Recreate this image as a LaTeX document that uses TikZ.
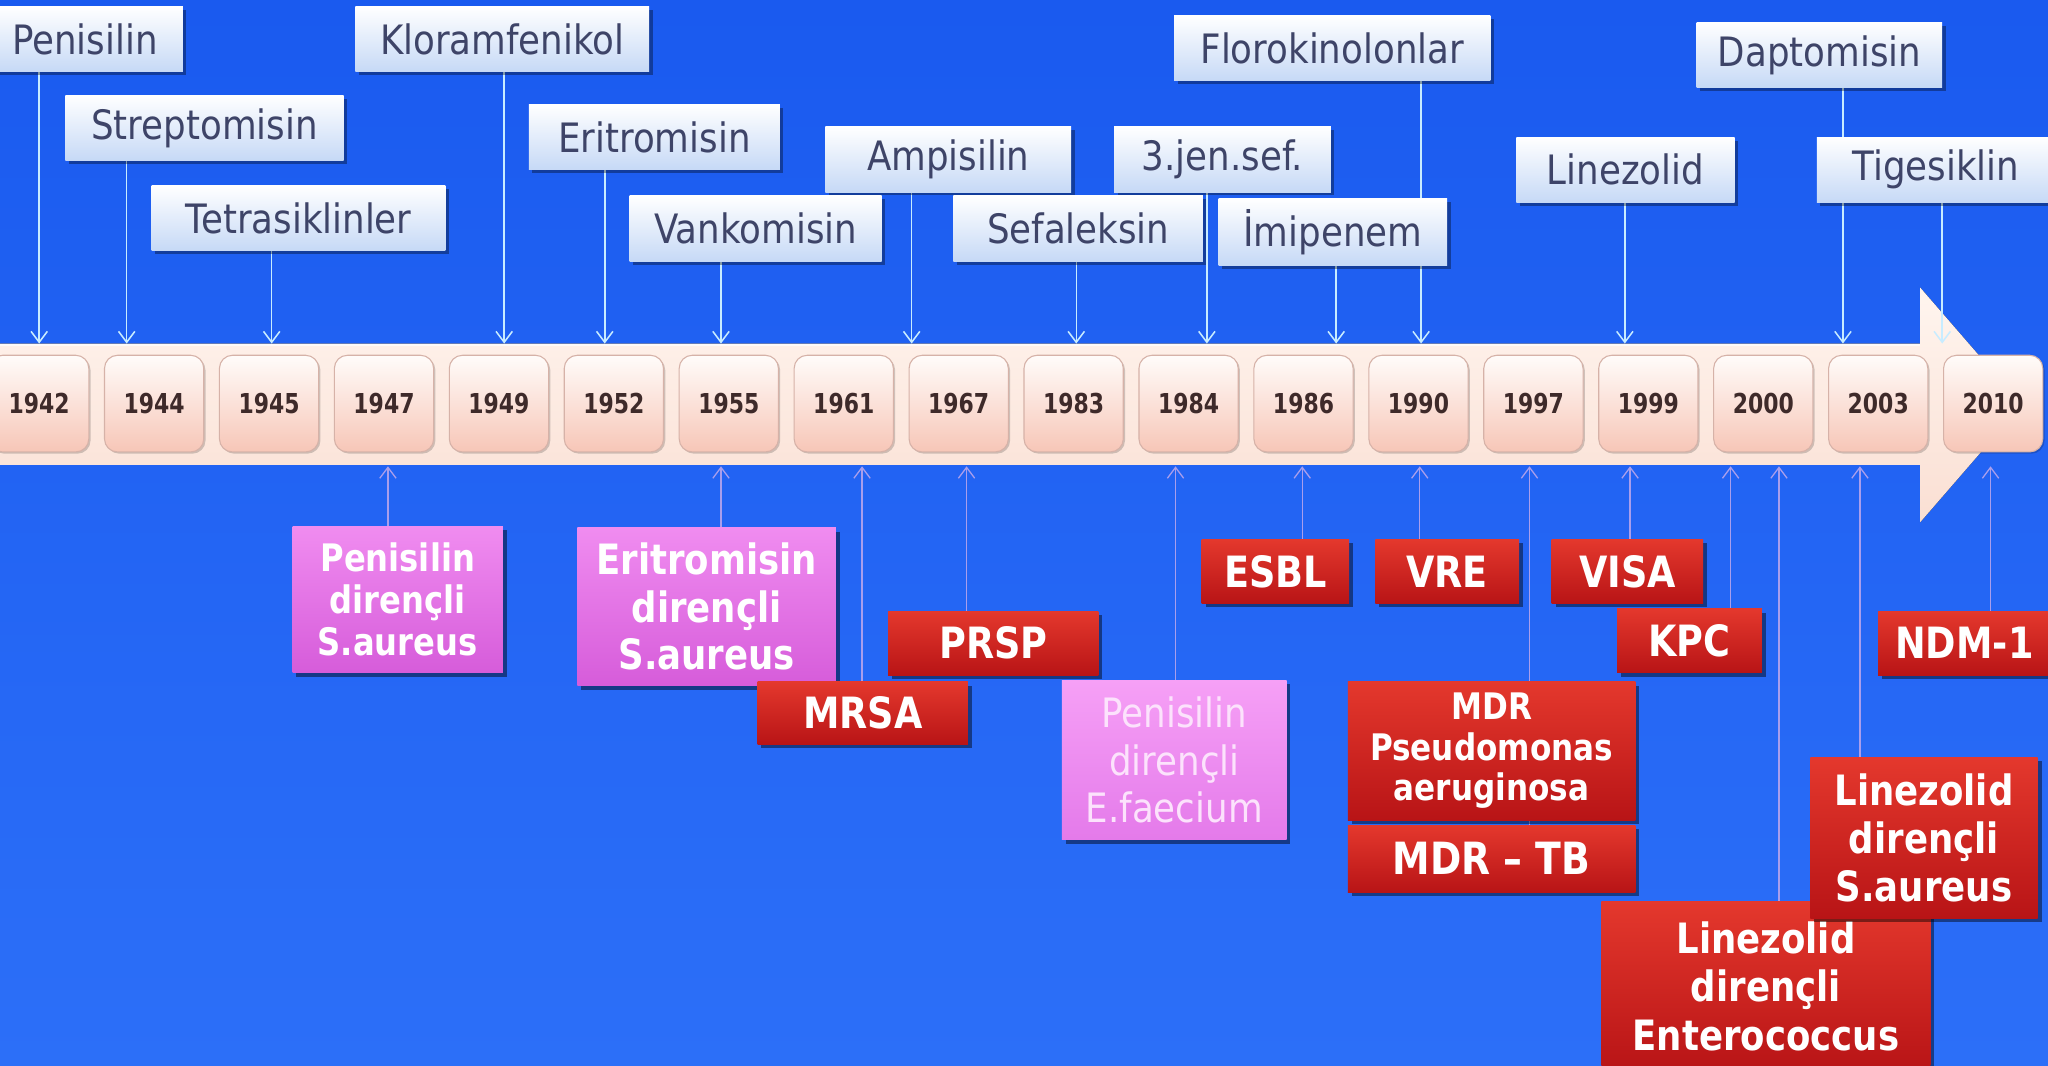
\documentclass[tikz,border=0pt]{standalone}
\usepackage{fontspec}
\setmainfont{DejaVu Sans}
\newfontfamily\lblfont{DejaVu Sans}[FakeStretch=0.88]
\newfontfamily\boxfont{DejaVu Sans}[FakeStretch=0.85]
\newfontfamily\yearfont{DejaVu Sans}[FakeStretch=0.8]
\usetikzlibrary{arrows.meta,shadows}

\definecolor{bgtop}{HTML}{1A5AEF}
\definecolor{bgbot}{HTML}{2C6FF8}
\definecolor{bandtopc}{HTML}{FFF5EF}
\definecolor{bandbotc}{HTML}{FADFD3}
\definecolor{lblbot}{HTML}{C6D9F6}
\definecolor{lbltext}{HTML}{3E4468}
\definecolor{yrtop}{HTML}{FFFCFA}
\definecolor{yrbot}{HTML}{F7C6B7}
\definecolor{yrline}{HTML}{D6B2A8}
\definecolor{yrtext}{HTML}{3E2A2A}
\definecolor{redtop}{HTML}{E4382D}
\definecolor{redbot}{HTML}{B81416}
\definecolor{pinktop}{HTML}{F08CF0}
\definecolor{pinkbot}{HTML}{D65CDA}
\definecolor{palepinktop}{HTML}{F6A0F6}
\definecolor{palepinkbot}{HTML}{E47AEA}
\definecolor{palepinktext}{HTML}{FCE2FC}
\definecolor{arrtop}{HTML}{C8ECFF}
\definecolor{arrbot}{HTML}{A99EEC}

\pgfdeclarelayer{bg}
\pgfdeclarelayer{lines}
\pgfsetlayers{bg,lines,main}

\tikzset{
  sz/.style 2 args={minimum width=#1*0.6pt, minimum height=#2*0.6pt},
  toplbl/.style={rectangle, inner sep=0pt, top color=white, bottom color=lblbot,
    text=lbltext, font=\lblfont\fontsize{18.6}{22}\selectfont,
    drop shadow={shadow xshift=1.6pt, shadow yshift=-1.6pt, opacity=0.35, fill=black}},
  yearbox/.style={rectangle, rounded corners=6pt, inner sep=0pt, sz={76}{74},
    top color=yrtop, bottom color=yrbot, draw=yrline, line width=0.5pt,
    text=yrtext, font=\yearfont\bfseries\fontsize{12.6}{14}\selectfont,
    drop shadow={shadow xshift=0.8pt, shadow yshift=-0.8pt, opacity=0.18, fill=black}},
  redbox/.style={rectangle, inner sep=0pt, align=center, top color=redtop, bottom color=redbot,
    text=white, font=\boxfont\bfseries\fontsize{19.8}{23}\selectfont,
    drop shadow={shadow xshift=1.8pt, shadow yshift=-1.8pt, opacity=0.45, fill=black}},
  pinkbox/.style={redbox, top color=pinktop, bottom color=pinkbot},
  palebox/.style={redbox, top color=palepinktop, bottom color=palepinkbot,
    text=palepinktext, font=\lblfont\fontsize{18.6}{21.9}\selectfont},
  toparr/.style={draw=arrtop, line width=0.7pt, -{Straight Barb[length=5pt,width=7.5pt]}},
  botarr/.style={draw=arrbot, line width=0.6pt, {Straight Barb[length=5pt,width=7.5pt]}-},
}

\begin{document}
\begin{tikzpicture}[x=0.6pt,y=-0.6pt]
\useasboundingbox (0,0) rectangle (1568,816);

% background and timeline band with its arrow head
\begin{pgfonlayer}{bg}
  \fill[top color=bgtop, bottom color=bgbot] (0,0) rectangle (1568,816);
  \fill[top color=bandtopc, bottom color=bandbotc]
    (-10,263) -- (1470,263) -- (1470,220) -- (1548,310) -- (1470,400)
    -- (1470,356) -- (-10,356) -- cycle;
  \draw[white, opacity=0.7, line width=0.8pt] (-10,264) -- (1470,264);
\end{pgfonlayer}
\coordinate (bandtop) at (0,263);
\coordinate (bandbot) at (0,357);

% year boxes
\foreach \yr [count=\i from 0] in {1942,1944,1945,1947,1949,1952,1955,1961,1967,1983,1984,1986,1990,1997,1999,2000,2003,2010}
  \node[yearbox] (y\yr) at (30+88*\i,309) {\yr};

% antibiotics introduced
\node[toplbl, sz={150}{50}] (penisilin)   at (65,30)     {Penisilin};
\node[toplbl, sz={213}{50}] (streptomisin) at (156.5,98) {Streptomisin};
\node[toplbl, sz={225}{50}] (tetra)       at (228.5,167) {Tetrasiklinler};
\node[toplbl, sz={225}{50}] (kloram)      at (384.5,30)  {Kloramfenikol};
\node[toplbl, sz={192}{50}] (eritro)      at (501,105)   {Eritromisin};
\node[toplbl, sz={193}{50}] (vanko)       at (578.5,175) {Vankomisin};
\node[toplbl, sz={188}{50}] (ampi)        at (726,122)   {Ampisilin};
\node[toplbl, sz={191}{50}] (sefal)       at (825.5,175) {Sefaleksin};
\node[toplbl, sz={166}{50}] (jensef)      at (936,122)   {3.jen.sef.};
\node[toplbl, sz={175}{51}] (imipenem)    at (1020.5,177.5) {İmipenem};
\node[toplbl, sz={242}{50}] (floro)       at (1020,37)   {Florokinolonlar};
\node[toplbl, sz={167}{50}] (linezolid)   at (1244.5,130) {Linezolid};
\node[toplbl, sz={188}{50}] (dapto)       at (1393,42)   {Daptomisin};
\node[toplbl, sz={182}{50}] (tige)        at (1482,130)  {Tigesiklin};

% resistance that appeared
\node[pinkbox, sz={161}{112}, font=\boxfont\bfseries\fontsize{17.4}{19.2}\selectfont]
  (pensa) at (304.5,459) {Penisilin\\dirençli\\S.aureus};
\node[pinkbox, sz={198}{121}, font=\boxfont\bfseries\fontsize{19.2}{21.9}\selectfont]
  (eritsa) at (541,464.5) {Eritromisin\\dirençli\\S.aureus};
\node[redbox, sz={161}{48}]  (mrsa) at (660.5,546)   {MRSA};
\node[redbox, sz={161}{49}]  (prsp) at (760.5,492.5) {PRSP};
\node[palebox, sz={172}{122}] (penef) at (899,582) {Penisilin\\dirençli\\E.faecium};
\node[redbox, sz={113}{49}]  (esbl) at (976.5,437.5) {ESBL};
\node[redbox, sz={110}{49}]  (vre)  at (1108,437.5)  {VRE};
\node[redbox, sz={116}{49}]  (visa) at (1246,437.5)  {VISA};
\node[redbox, sz={111}{49}]  (kpc)  at (1293.5,490.5) {KPC};
\node[redbox, sz={220}{106}, font=\boxfont\bfseries\fontsize{16.8}{18.6}\selectfont]
  (pseudo) at (1142,575) {MDR\\Pseudomonas\\aeruginosa};
\node[redbox, sz={220}{51}, font=\boxfont\bfseries\fontsize{20.4}{23}\selectfont]
  (mdrtb) at (1142,657.5) {MDR – TB};
\node[redbox, sz={252}{130}, font=\boxfont\bfseries\fontsize{19.2}{22.2}\selectfont]
  (linent) at (1352,755) {Linezolid\\dirençli\\Enterococcus};
\node[redbox, sz={174}{123}, font=\boxfont\bfseries\fontsize{19.2}{22.2}\selectfont]
  (linsa) at (1473,641.5) {Linezolid\\dirençli\\S.aureus};
\node[redbox, sz={132}{49}]  (ndm) at (1504,492.5) {NDM-1};

% connectors to the timeline
\begin{pgfonlayer}{lines}
  \foreach \n/\x in {penisilin/30, streptomisin/97, tetra/208, kloram/386, eritro/463,
      vanko/552, ampi/698, sefal/824, jensef/924, imipenem/1023, floro/1088,
      linezolid/1244, dapto/1411, tige/1487}
    \draw[toparr] (\n.south -| \x,0) -- (\x,0 |- bandtop);
  \foreach \n/\x in {pensa/297, eritsa/552, mrsa/660, prsp/740, penef/900, esbl/997,
      vre/1087, visa/1248, mdrtb/1171, kpc/1325, linent/1362, linsa/1424, ndm/1524}
    \draw[botarr] (\x,0 |- bandbot) -- (\n.north -| \x,0);
\end{pgfonlayer}
\end{tikzpicture}
\end{document}
